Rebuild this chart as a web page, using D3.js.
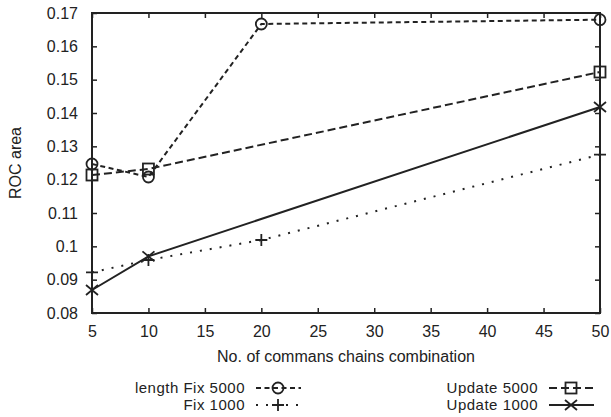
<!DOCTYPE html>
<html>
<head>
<meta charset="utf-8">
<script src="https://cdn.jsdelivr.net/npm/d3@7"></script>
<style>
  body { margin: 0; background: #fff; }
  text { font-family: "Liberation Sans", Arial, sans-serif; fill: #222; }
</style>
</head>
<body>
<svg width="611" height="417"></svg>
<script>
var xTicks = [5, 10, 15, 20, 25, 30, 35, 40, 45, 50],
    yTicks = [0.08, 0.09, 0.1, 0.11, 0.12, 0.13, 0.14, 0.15, 0.16, 0.17];

// series
var fix5000 = [[5, 0.1247], [10, 0.1208], [20, 0.1667], [50, 0.1680]],
    fix1000 = [[5, 0.0922], [10, 0.0959], [20, 0.1019], [50, 0.1275]],
    upd5000 = [[5, 0.1214], [10, 0.1232], [50, 0.1523]],
    upd1000 = [[5, 0.0869], [10, 0.0970], [50, 0.1418]];

var series = [
  {name: "length Fix 5000", data: fix5000, dash: "5,3.5", mark: "circle", lx: 245, ly: 393},
  {name: "Fix 1000", data: fix1000, dash: "2,8", mark: "plus", lx: 245, ly: 410},
  {name: "Update 5000", data: upd5000, dash: "8,4", mark: "square", lx: 538, ly: 393},
  {name: "Update 1000", data: upd1000, dash: null, mark: "cross", lx: 538, ly: 410}
];

var svg = d3.select("svg"),
    pLeft = 92, pRight = 600, pTop = 13, pBottom = 313;

var x = d3.scaleLinear().domain([5, 50]).range([pLeft, pRight]),
    y = d3.scaleLinear().domain([0.08, 0.17]).range([pBottom, pTop]);

var line = d3.line()
    .x(function(d) { return x(d[0]); })
    .y(function(d) { return y(d[1]); });

function marker(g, type, cx, cy) {
  var s = g.append("g").attr("transform", "translate(" + cx + "," + cy + ")")
      .attr("fill", "none").attr("stroke", "#222").attr("stroke-width", 1.8);
  if (type == "circle") s.append("circle").attr("r", 5.5);
  if (type == "square") s.append("rect").attr("x", -5.5).attr("y", -5.5).attr("width", 11).attr("height", 11);
  if (type == "plus") s.append("path").attr("d", "M-6,0H6M0,-6V6");
  if (type == "cross") s.append("path").attr("d", "M-6,-5L6,5M-6,5L6,-5");
}

function styleTicks(g) {
  g.select(".domain").remove();
  g.selectAll("line").attr("stroke", "#222").attr("stroke-width", 1.5);
  g.selectAll("text").attr("font-size", 16).attr("fill", "#222");
}

// axes: gnuplot style ticks pointing inward on all sides
svg.append("g")
    .attr("transform", "translate(0," + pBottom + ")")
    .call(d3.axisBottom(x).tickValues(xTicks).tickSize(-5).tickPadding(13))
    .call(styleTicks);

svg.append("g")
    .attr("transform", "translate(0," + pTop + ")")
    .call(d3.axisTop(x).tickValues(xTicks).tickSize(-5).tickFormat(""))
    .call(styleTicks);

svg.append("g")
    .attr("transform", "translate(" + pLeft + ",0)")
    .call(d3.axisLeft(y).tickValues(yTicks).tickSize(-5).tickPadding(14).tickFormat(d3.format("~g")))
    .call(styleTicks);

svg.append("g")
    .attr("transform", "translate(" + pRight + ",0)")
    .call(d3.axisRight(y).tickValues(yTicks).tickSize(-5).tickFormat(""))
    .call(styleTicks);

svg.append("rect")
    .attr("x", pLeft).attr("y", pTop)
    .attr("width", pRight - pLeft).attr("height", pBottom - pTop)
    .attr("fill", "none").attr("stroke", "#222").attr("stroke-width", 2);

// lines and markers
series.forEach(function(s) {
  svg.append("path")
      .datum(s.data)
      .attr("d", line)
      .attr("fill", "none")
      .attr("stroke", "#222")
      .attr("stroke-width", 2)
      .attr("stroke-dasharray", s.dash);
  s.data.forEach(function(d) { marker(svg, s.mark, x(d[0]), y(d[1])); });
});

// labels
svg.append("text")
    .attr("x", (pLeft + pRight) / 2).attr("y", 362)
    .attr("text-anchor", "middle").attr("font-size", 16)
    .text("No. of commans chains combination");

svg.append("text")
    .attr("transform", "translate(21," + ((pTop + pBottom) / 2) + ") rotate(-90)")
    .attr("text-anchor", "middle").attr("font-size", 16)
    .text("ROC area");

// legend
series.forEach(function(s) {
  svg.append("text")
      .attr("x", s.lx).attr("y", s.ly)
      .attr("text-anchor", "end").attr("font-size", 15)
      .attr("letter-spacing", 0.5)
      .text(s.name);
  var cy = s.ly - 5;
  svg.append("line")
      .attr("x1", s.lx + 11).attr("x2", s.lx + 56)
      .attr("y1", cy).attr("y2", cy)
      .attr("stroke", "#222").attr("stroke-width", 2)
      .attr("stroke-dasharray", s.dash);
  marker(svg, s.mark, s.lx + 33, cy);
});
</script>
</body>
</html>
